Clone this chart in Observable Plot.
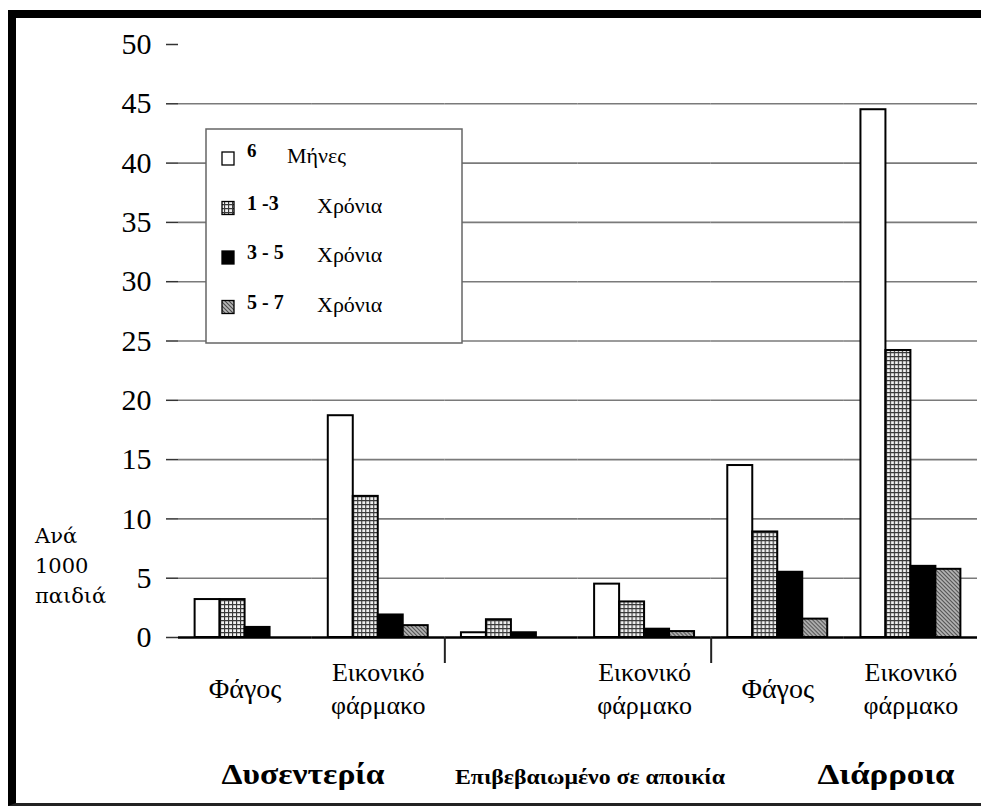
<!DOCTYPE html>
<html><head><meta charset="utf-8">
<script src="https://cdn.jsdelivr.net/npm/d3@7"></script>
<script src="https://cdn.jsdelivr.net/npm/@observablehq/plot@0.6"></script>
<style>
body{margin:0;background:#fff}
#wrap{position:relative;width:981px;height:809px;background:#fff;overflow:hidden}
#frame{position:absolute;left:8px;top:10px;width:973px;height:796px;border-top:8px solid #000;border-left:8px solid #000;border-bottom:3px solid #222;box-sizing:border-box}
#wrap svg{position:absolute;left:0;top:0}
</style></head><body>
<svg width="0" height="0" style="position:absolute">
  <defs>
    <pattern id="pGrid" width="4" height="4" patternUnits="userSpaceOnUse">
      <rect width="4" height="4" fill="#f2f2f2"/>
      <path d="M0,0.5H4M0.5,0V4" stroke="#3a3a3a" stroke-width="1.3"/>
    </pattern>
    <pattern id="pDiag" width="4" height="4" patternUnits="userSpaceOnUse">
      <rect width="4" height="4" fill="#b8b8b8"/>
      <path d="M-1,-1L5,5M-1,3L1,5M3,-1L5,1" stroke="#4a4a4a" stroke-width="1.1"/>
    </pattern>
  </defs>
</svg>
<div id="wrap"><div id="frame"></div></div>
<script>
// ---- data ----
const groupLabels = ["Φάγος", "Εικονικό\nφάρμακο", "", "Εικονικό\nφάρμακο", "Φάγος", "Εικονικό\nφάρμακο"];
const sectionOfGroup = [0, 0, 1, 1, 2, 2];
const sections = ["Δυσεντερία", "Επιβεβαιωμένο σε αποικία", "Διάρροια"];
const ageGroups = ["6 Μήνες", "1-3 Χρόνια", "3-5 Χρόνια", "5-7 Χρόνια"];
const legendNumbers = ["6", "1 -3", "3 - 5", "5 - 7"];
const legendUnits = ["Μήνες", "Χρόνια", "Χρόνια", "Χρόνια"];
const months6   = [3.2, 18.7, 0.4, 4.5, 14.5, 44.5];
const years1to3 = [3.2, 11.9, 1.5, 3.0, 8.9, 24.2];
const years3to5 = [0.85, 1.9, 0.4, 0.7, 5.5, 6.0];
const years5to7 = [null, 1.0, null, 0.5, 1.55, 5.75];
const yTicks = [0, 5, 10, 15, 20, 25, 30, 35, 40, 45, 50];
const yTitle = ["Ανά", "1000", "παιδιά"];

// ---- build ----
const series = [months6, years1to3, years3to5, years5to7];
const fills = ["#ffffff", "url(#pGrid)", "#000000", "url(#pDiag)"];
const rows = [];
groupLabels.forEach((g, gi) => series.forEach((s, ai) => {
  if (s[gi] != null) rows.push({group: gi, age: ageGroups[ai], value: s[gi]});
}));
const groupIdx = groupLabels.map((_, i) => i);
const breaks = groupIdx.filter(i => i > 0 && sectionOfGroup[i] !== sectionOfGroup[i - 1]);

const serif = "Liberation Serif";

const plot = Plot.plot({
  width: 981, height: 809,
  marginLeft: 178, marginRight: 4, marginTop: 44, marginBottom: 172,
  style: {fontFamily: serif, background: "transparent", color: "#000"},
  fx: {domain: groupIdx, paddingInner: 0, paddingOuter: 0, axis: null, round: false},
  x: {domain: ageGroups, paddingInner: 0, paddingOuter: 0.665, axis: null, round: false},
  y: {domain: [0, 50], axis: null},
  color: {type: "ordinal", domain: ageGroups, range: fills},
  marks: [
    Plot.ruleY(yTicks.filter(t => t > 0 && t < 50), {stroke: "#7a7a7a", strokeWidth: 1.6}),
    Plot.barY(rows, {fx: "group", x: "age", y: "value", fill: "age", stroke: "#000", strokeWidth: 2}),
    Plot.ruleY([0], {stroke: "#000", strokeWidth: 2.5}),
    Plot.axisY({ticks: yTicks, tickSize: 12, tickPadding: 15, fontSize: 30, line: true,
      stroke: "#333", strokeWidth: 1.5, label: null, tickFormat: d => String(d), fontFamily: serif}),
    Plot.ruleX(breaks, {fx: d => d, x: () => ageGroups[0], dx: -29.1, y1: 0, y2: 0,
      insetBottom: -26, stroke: "#222", strokeWidth: 2}),
    Plot.text(groupIdx, {fx: d => d, text: d => groupLabels[d], frameAnchor: "bottom",
      dy: 49, lineAnchor: "middle", lineHeight: 1.27, fontFamily: serif,
      fontSize: d => groupLabels[d].includes("\n") ? 26 : 28, fill: "#000"})
  ]
});
document.getElementById("wrap").appendChild(plot);

// ---- overlay: legend, section labels, y title ----
const ov = d3.create("svg").attr("width", 981).attr("height", 809)
  .style("pointer-events", "none");
const lg = ov.append("g");
lg.append("rect").attr("x", 206).attr("y", 129).attr("width", 256).attr("height", 214)
  .attr("fill", "#fff").attr("stroke", "#666").attr("stroke-width", 1.5);
ageGroups.forEach((a, i) => {
  const base = 163 + i * 49.5;
  lg.append("rect").attr("x", 222).attr("y", base - 11).attr("width", 12).attr("height", 13)
    .attr("fill", fills[i]).attr("stroke", "#000").attr("stroke-width", 1.3);
  lg.append("text").attr("x", 247).attr("y", base - (i === 0 ? 6 : 3))
    .attr("font-size", i === 0 ? 19 : 20).attr("font-weight", "bold").text(legendNumbers[i]);
  lg.append("text").attr("x", i === 0 ? 287 : 317).attr("y", base)
    .attr("font-size", 22).text(legendUnits[i]);
});
const secX = [303, 590, 886];
const secW = [163, 270, 137];
const secSize = [30, 22, 30];
sections.forEach((s, i) => {
  ov.append("text").attr("x", secX[i]).attr("y", 784).attr("text-anchor", "middle")
    .attr("font-weight", "bold").attr("font-size", secSize[i])
    .attr("textLength", secW[i]).attr("lengthAdjust", "spacingAndGlyphs").text(s);
});
yTitle.forEach((t, i) => {
  ov.append("text").attr("class", "ytitle").attr("x", 35).attr("y", 543 + i * 30).attr("font-size", 21).text(t);
});
document.getElementById("wrap").appendChild(ov.node());
d3.selectAll("#wrap svg text").style("font-family", serif, "important");
d3.selectAll("#wrap svg text.ytitle").style("font-family", "DejaVu Serif", "important");
</script>
</body></html>
